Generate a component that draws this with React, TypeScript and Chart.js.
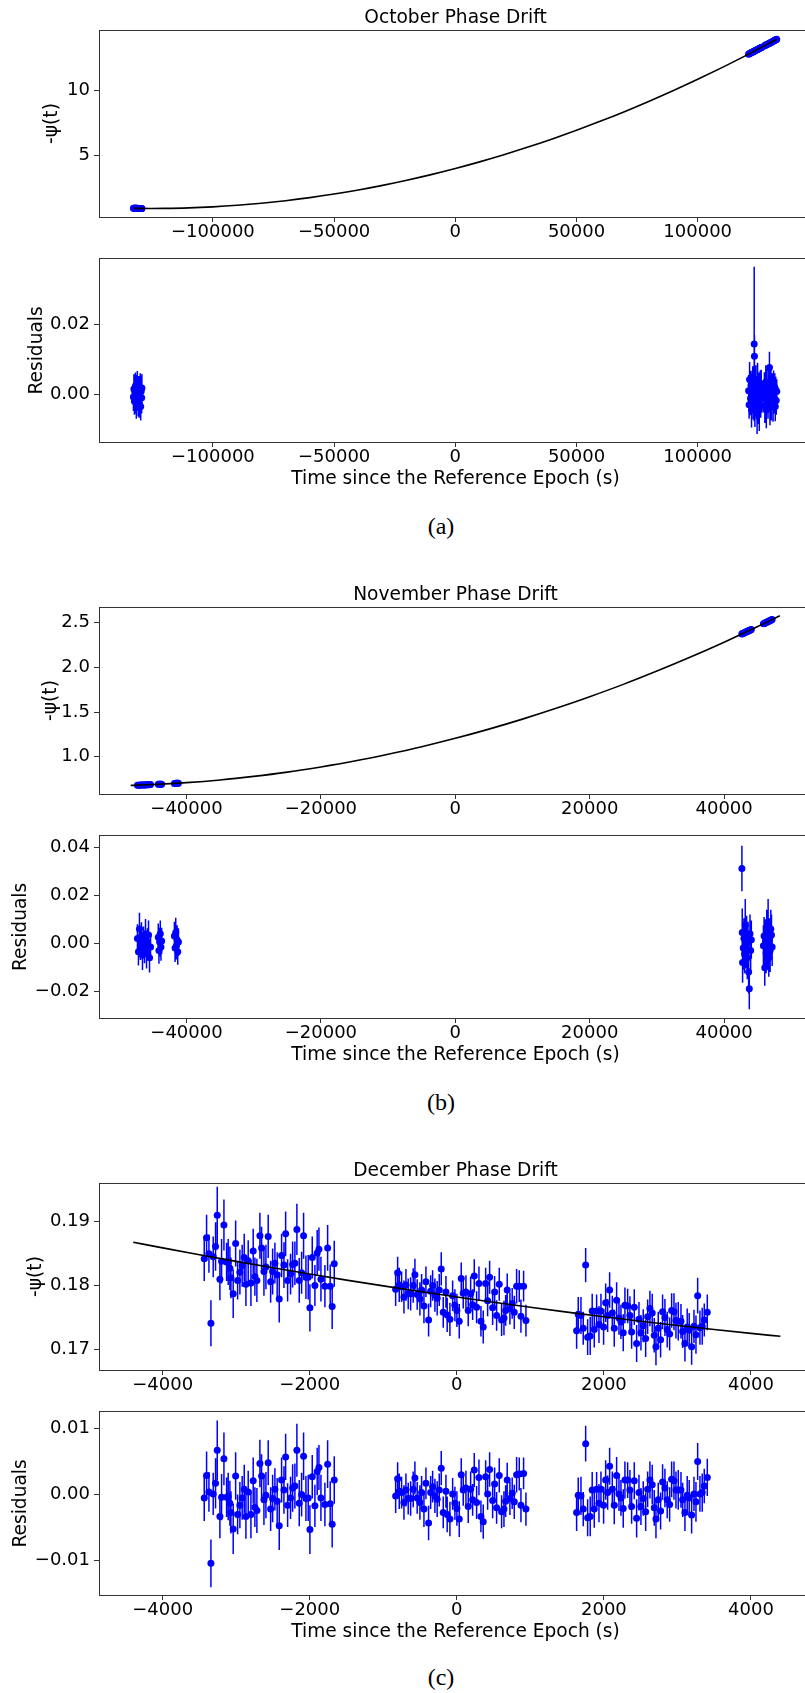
import React, { useEffect, useRef } from 'react';
import { Chart, registerables } from 'chart.js';

Chart.register(...registerables);

// ------------------------------------------------------------------ data
// October
const OCT_FIT_X = [-132800, -126000, -120000, -110000, -100000, -90000, -80000, -70000, -60000, -50000, -40000, -30000, -20000, -10000, 0, 10000, 20000, 30000, 40000, 50000, 60000, 70000, 80000, 90000, 100000, 110000, 120000, 132600];
const OCT_FIT_Y = [0.855, 0.844, 0.850, 0.890, 0.971, 1.091, 1.250, 1.449, 1.688, 1.966, 2.283, 2.641, 3.038, 3.474, 3.950, 4.466, 5.020, 5.615, 6.249, 6.924, 7.636, 8.389, 9.182, 10.013, 10.885, 11.796, 12.746, 14.001];

const OCT_X = [
  -132800, -132600, -132400, -132200, -132000, -131800, -131600, -131400, -131200, -131000, -130800, -130600, -130400, -130200, -130000, -129800, -129600, -129400, -129300,
  121000, 121200, 121400, 121800, 122000, 122200, 122500, 122700, 122900, 123100, 123300, 123400, 123600, 124000, 124300, 124500, 124700, 125000, 125200, 125400, 125800, 126000, 126200, 126500,
  127500, 127700, 127900, 128100, 128300, 128600, 129000, 129300, 129600, 129800, 130000, 130200, 130400, 130700, 131100, 131300, 131500, 131800, 132000, 132200, 132400, 132600,
];
const OCT_PHASE = [
  0.855, 0.854, 0.854, 0.853, 0.853, 0.852, 0.852, 0.851, 0.851, 0.850, 0.850, 0.849, 0.849, 0.849, 0.848, 0.848, 0.848, 0.847, 0.847,
  12.844, 12.864, 12.883, 12.922, 12.942, 12.961, 12.990, 13.010, 13.030, 13.050, 13.069, 13.079, 13.099, 13.138, 13.168, 13.188, 13.207, 13.237, 13.257, 13.276, 13.316, 13.336, 13.356, 13.386,
  13.485, 13.506, 13.526, 13.546, 13.566, 13.596, 13.637, 13.666, 13.696, 13.717, 13.737, 13.757, 13.777, 13.808, 13.849, 13.869, 13.889, 13.919, 13.939, 13.960, 13.980, 14.001,
];
const OCT_RESID = [
  -0.0008, 0.0015, -0.0020, 0.0005, 0.0022, -0.0012, -0.0030, 0.0010, 0.0028, -0.0005, -0.0018, 0.0012, -0.0025, 0.0002, 0.0020, -0.0035, 0.0008, -0.0010, 0.0018,
  0.0010, -0.0030, 0.0042, -0.0012, 0.0025, -0.0045, 0.0005, 0.0035, -0.0020, 0.0015, 0.0143, 0.0108, -0.0035, 0.0028, -0.0010, -0.0055, 0.0040, -0.0025, 0.0012, -0.0040, 0.0020, -0.0015, 0.0030, -0.0008,
  0.0018, -0.0032, 0.0008, 0.0035, -0.0045, 0.0012, -0.0020, 0.0030, 0.0076, -0.0038, 0.0005, 0.0038, -0.0025, 0.0015, -0.0030, 0.0028, -0.0010, 0.0020, -0.0035, 0.0012, -0.0018, 0.0008,
];
const OCT_ERR = [
  0.0040, 0.0042, 0.0038, 0.0045, 0.0040, 0.0043, 0.0040, 0.0045, 0.0038, 0.0042, 0.0045, 0.0040, 0.0042, 0.0046, 0.0040, 0.0040, 0.0043, 0.0045, 0.0040,
  0.0045, 0.0040, 0.0050, 0.0048, 0.0042, 0.0050, 0.0055, 0.0045, 0.0052, 0.0060, 0.0220, 0.0060, 0.0058, 0.0055, 0.0062, 0.0058, 0.0050, 0.0060, 0.0050, 0.0065, 0.0048, 0.0052, 0.0040, 0.0045,
  0.0045, 0.0050, 0.0055, 0.0048, 0.0052, 0.0060, 0.0050, 0.0045, 0.0045, 0.0050, 0.0058, 0.0042, 0.0050, 0.0045, 0.0048, 0.0040, 0.0045, 0.0040, 0.0042, 0.0038, 0.0040, 0.0035,
];

// November
const NOV_FIT_X = [-48300, -45000, -40000, -35000, -30000, -25000, -20000, -15000, -10000, -5000, 0, 5000, 10000, 15000, 20000, 25000, 30000, 35000, 40000, 45000, 48300];
const NOV_FIT_Y = [0.680, 0.689, 0.710, 0.740, 0.780, 0.828, 0.886, 0.952, 1.028, 1.112, 1.206, 1.309, 1.421, 1.542, 1.672, 1.810, 1.959, 2.116, 2.282, 2.457, 2.578];

const NOV_X = [
  -47300, -47150, -47000, -46850, -46700, -46550, -46400, -46250, -46100, -45950, -45800, -45650, -45500, -45350,
  -44200, -44100, -44000, -43900, -43800, -43700,
  -41800, -41700, -41600, -41500, -41400, -41300, -41200,
  42650, 42700, 42750, 42850, 42950, 43050, 43150, 43250, 43350, 43450, 43550, 43650, 43750, 43850, 43950, 44050,
  45850, 45950, 46050, 46150, 46250, 46350, 46450, 46550, 46650, 46750, 46850, 46950, 47050, 47150,
];
const NOV_PHASE = [
  0.681, 0.682, 0.682, 0.683, 0.683, 0.684, 0.684, 0.685, 0.685, 0.686, 0.686, 0.687, 0.687, 0.688,
  0.691, 0.692, 0.692, 0.692, 0.693, 0.693,
  0.701, 0.701, 0.702, 0.702, 0.703, 0.703, 0.703,
  2.374, 2.376, 2.378, 2.381, 2.385, 2.388, 2.392, 2.395, 2.399, 2.402, 2.406, 2.409, 2.413, 2.417, 2.420, 2.424,
  2.488, 2.492, 2.495, 2.499, 2.503, 2.506, 2.510, 2.514, 2.517, 2.521, 2.525, 2.528, 2.532, 2.536,
];
const NOV_RESID = [
  0.0020, -0.0035, 0.0060, -0.0010, 0.0030, -0.0050, 0.0010, -0.0025, 0.0040, -0.0040, 0.0005, 0.0035, -0.0060, -0.0015,
  0.0025, -0.0030, 0.0005, 0.0040, -0.0015, 0.0010,
  0.0030, -0.0020, 0.0045, -0.0010, 0.0015, -0.0035, 0.0005,
  0.0312, 0.0045, -0.0080, -0.0020, 0.0020, -0.0045, 0.0075, -0.0010, 0.0030, -0.0060, 0.0005, -0.0120, -0.0190, 0.0040, -0.0030, 0.0015,
  -0.0010, 0.0030, -0.0102, 0.0010, -0.0040, 0.0050, -0.0020, 0.0075, -0.0060, 0.0020, -0.0030, 0.0060, 0.0035, -0.0015,
];
const NOV_ERR = [
  0.0060, 0.0058, 0.0068, 0.0060, 0.0058, 0.0062, 0.0060, 0.0058, 0.0062, 0.0065, 0.0058, 0.0060, 0.0062, 0.0058,
  0.0058, 0.0055, 0.0060, 0.0055, 0.0058, 0.0055,
  0.0060, 0.0058, 0.0062, 0.0058, 0.0060, 0.0055, 0.0058,
  0.0095, 0.0100, 0.0085, 0.0090, 0.0085, 0.0080, 0.0110, 0.0095, 0.0085, 0.0090, 0.0085, 0.0090, 0.0085, 0.0080, 0.0085, 0.0080,
  0.0085, 0.0080, 0.0075, 0.0090, 0.0085, 0.0090, 0.0085, 0.0110, 0.0080, 0.0085, 0.0090, 0.0080, 0.0085, 0.0080,
];

// December
const DEC_FIT_X = [-4400, -4000, -3500, -3000, -2500, -2000, -1500, -1000, -500, 0, 500, 1000, 1500, 2000, 2500, 3000, 3500, 4000, 4400];
const DEC_FIT_Y = [0.18678, 0.18590, 0.18483, 0.18379, 0.18278, 0.18180, 0.18085, 0.17994, 0.17906, 0.17820, 0.17738, 0.17659, 0.17583, 0.17510, 0.17440, 0.17374, 0.17311, 0.17250, 0.17204];

const DEC_X = [
  -3435, -3403, -3371, -3344, -3313, -3281, -3258, -3222, -3199, -3167, -3131, -3109, -3086, -3072, -3041, -3008, -2981, -2950, -2919, -2891,
  -2868, -2837, -2800, -2769, -2746, -2719, -2678, -2655, -2623, -2596, -2565, -2532, -2505, -2474, -2443, -2415, -2383, -2351, -2328, -2301,
  -2261, -2233, -2202, -2175, -2143, -2111, -2084, -2052, -2021, -1998, -1966, -1930, -1899, -1875, -1848, -1794, -1757, -1722, -1695, -1667,
  -832, -805, -783, -751, -719, -692, -661, -628, -593, -570, -539, -502, -479, -447, -420, -384, -356, -329, -298, -267,
  -239, -212, -185, -148, -131, -94, -57, -26, 1, 33, 60, 87, 124, 155, 188, 215, 237, 269, 301, 328,
  359, 392, 419, 446, 487, 514, 541, 577, 609, 641, 664, 685, 722, 753, 781, 813, 849, 872, 908, 940,
  1629, 1651, 1688, 1719, 1752, 1779, 1814, 1841, 1869, 1901, 1933, 1960, 1996, 2024, 2051, 2078, 2114, 2141, 2173, 2205,
  2232, 2263, 2286, 2323, 2354, 2377, 2413, 2445, 2477, 2504, 2535, 2568, 2595, 2626, 2657, 2685, 2708, 2739, 2771, 2798,
  2830, 2861, 2894, 2921, 2953, 2980, 3011, 3048, 3071, 3102, 3133, 3160, 3193, 3225, 3252, 3275, 3306, 3337, 3365, 3406,
];
const DEC_PHASE = [
  0.1842, 0.1875, 0.1850, 0.1741, 0.1845, 0.1861, 0.1910, 0.1810, 0.1838, 0.1895, 0.1837, 0.1837, 0.1827, 0.1812, 0.1787, 0.1866, 0.1808, 0.1821, 0.1831, 0.1844,
  0.1802, 0.1839, 0.1804, 0.1854, 0.1814, 0.1808, 0.1878, 0.1859, 0.1822, 0.1829, 0.1877, 0.1806, 0.1822, 0.1835, 0.1817, 0.1779, 0.1847, 0.1832, 0.1881, 0.1808,
  0.1818, 0.1833, 0.1835, 0.1888, 0.1808, 0.1820, 0.1878, 0.1813, 0.1813, 0.1765, 0.1844, 0.1800, 0.1851, 0.1857, 0.1810, 0.1799, 0.1859, 0.1799, 0.1767, 0.1834,
  0.1794, 0.1820, 0.1801, 0.1798, 0.1782, 0.1801, 0.1787, 0.1787, 0.1800, 0.1817, 0.1786, 0.1779, 0.1793, 0.1768, 0.1806, 0.1746, 0.1791, 0.1800, 0.1785, 0.1780,
  0.1793, 0.1826, 0.1758, 0.1790, 0.1754, 0.1747, 0.1784, 0.1769, 0.1761, 0.1744, 0.1811, 0.1788, 0.1790, 0.1761, 0.1787, 0.1770, 0.1815, 0.1766, 0.1803, 0.1744,
  0.1735, 0.1803, 0.1776, 0.1813, 0.1765, 0.1790, 0.1753, 0.1802, 0.1746, 0.1749, 0.1761, 0.1793, 0.1764, 0.1772, 0.1758, 0.1799, 0.1799, 0.1752, 0.1799, 0.1745,
  0.1729, 0.1755, 0.1753, 0.1733, 0.1832, 0.1719, 0.1721, 0.1760, 0.1731, 0.1760, 0.1739, 0.1760, 0.1735, 0.1773, 0.1753, 0.1793, 0.1757, 0.1733, 0.1777, 0.1749,
  0.1743, 0.1726, 0.1769, 0.1768, 0.1753, 0.1727, 0.1766, 0.1709, 0.1747, 0.1726, 0.1737, 0.1717, 0.1751, 0.1764, 0.1757, 0.1722, 0.1704, 0.1733, 0.1715, 0.1759,
  0.1750, 0.1731, 0.1724, 0.1761, 0.1759, 0.1745, 0.1744, 0.1744, 0.1728, 0.1709, 0.1735, 0.1730, 0.1704, 0.1736, 0.1723, 0.1784, 0.1734, 0.1736, 0.1746, 0.1758,
];
const DEC_RESID = [
  -0.0005, 0.0029, 0.0004, -0.0104, 0.0001, 0.0017, 0.0067, -0.0033, -0.0004, 0.0054, -0.0004, -0.0003, -0.0013, -0.0027, -0.0052, 0.0028, -0.0030, -0.0016, -0.0005, 0.0008,
  -0.0033, 0.0004, -0.0030, 0.0021, -0.0019, -0.0024, 0.0047, 0.0028, -0.0008, -0.0001, 0.0048, -0.0022, -0.0006, 0.0008, -0.0010, -0.0047, 0.0022, 0.0007, 0.0057, -0.0016,
  -0.0005, 0.0010, 0.0013, 0.0067, -0.0013, 0.0000, 0.0058, -0.0006, -0.0005, -0.0053, 0.0027, -0.0017, 0.0035, 0.0041, -0.0005, -0.0015, 0.0046, -0.0014, -0.0045, 0.0022,
  -0.0002, 0.0024, 0.0005, 0.0003, -0.0012, 0.0007, -0.0006, -0.0006, 0.0008, 0.0025, -0.0005, -0.0012, 0.0003, -0.0022, 0.0017, -0.0043, 0.0003, 0.0012, -0.0002, -0.0007,
  0.0007, 0.0040, -0.0027, 0.0005, -0.0030, -0.0037, 0.0001, -0.0013, -0.0021, -0.0037, 0.0030, 0.0007, 0.0010, -0.0018, 0.0008, -0.0008, 0.0037, -0.0012, 0.0026, -0.0033,
  -0.0041, 0.0027, 0.0001, 0.0038, -0.0009, 0.0016, -0.0020, 0.0029, -0.0026, -0.0022, -0.0010, 0.0022, -0.0006, 0.0002, -0.0011, 0.0030, 0.0031, -0.0016, 0.0032, -0.0022,
  -0.0027, -0.0001, -0.0002, -0.0022, 0.0077, -0.0035, -0.0033, 0.0007, -0.0022, 0.0008, -0.0013, 0.0008, -0.0016, 0.0022, 0.0003, 0.0043, 0.0008, -0.0016, 0.0029, 0.0001,
  -0.0005, -0.0021, 0.0022, 0.0022, 0.0007, -0.0018, 0.0021, -0.0036, 0.0003, -0.0018, -0.0006, -0.0026, 0.0008, 0.0022, 0.0015, -0.0020, -0.0037, -0.0008, -0.0025, 0.0019,
  0.0010, -0.0008, -0.0015, 0.0023, 0.0021, 0.0007, 0.0007, 0.0007, -0.0008, -0.0027, -0.0001, -0.0005, -0.0031, 0.0001, -0.0011, 0.0050, 0.0001, 0.0003, 0.0013, 0.0026,
];
const DEC_ERR = [
  0.0035, 0.0036, 0.0030, 0.0036, 0.0032, 0.0038, 0.0045, 0.0033, 0.0035, 0.0040, 0.0030, 0.0036, 0.0034, 0.0032, 0.0038, 0.0036, 0.0030, 0.0035, 0.0033, 0.0037,
  0.0034, 0.0032, 0.0036, 0.0035, 0.0030, 0.0034, 0.0036, 0.0033, 0.0038, 0.0035, 0.0034, 0.0033, 0.0036, 0.0032, 0.0035, 0.0037, 0.0034, 0.0036, 0.0035, 0.0033,
  0.0032, 0.0036, 0.0034, 0.0040, 0.0035, 0.0033, 0.0036, 0.0034, 0.0035, 0.0037, 0.0033, 0.0032, 0.0036, 0.0034, 0.0035, 0.0033, 0.0036, 0.0034, 0.0035, 0.0036,
  0.0026, 0.0025, 0.0027, 0.0024, 0.0026, 0.0025, 0.0024, 0.0026, 0.0027, 0.0025, 0.0024, 0.0026, 0.0025, 0.0027, 0.0024, 0.0026, 0.0025, 0.0024, 0.0026, 0.0027,
  0.0025, 0.0026, 0.0024, 0.0025, 0.0027, 0.0026, 0.0024, 0.0025, 0.0026, 0.0027, 0.0025, 0.0024, 0.0026, 0.0025, 0.0027, 0.0024, 0.0026, 0.0025, 0.0027, 0.0024,
  0.0026, 0.0025, 0.0024, 0.0026, 0.0027, 0.0025, 0.0024, 0.0026, 0.0025, 0.0027, 0.0024, 0.0026, 0.0025, 0.0024, 0.0026, 0.0027, 0.0025, 0.0026, 0.0024, 0.0025,
  0.0028, 0.0027, 0.0029, 0.0026, 0.0027, 0.0028, 0.0030, 0.0027, 0.0028, 0.0026, 0.0029, 0.0027, 0.0028, 0.0030, 0.0026, 0.0028, 0.0027, 0.0029, 0.0028, 0.0026,
  0.0027, 0.0029, 0.0028, 0.0027, 0.0030, 0.0026, 0.0028, 0.0029, 0.0027, 0.0028, 0.0026, 0.0029, 0.0027, 0.0028, 0.0030, 0.0027, 0.0029, 0.0026, 0.0028, 0.0027,
  0.0029, 0.0028, 0.0026, 0.0027, 0.0029, 0.0028, 0.0030, 0.0027, 0.0026, 0.0028, 0.0029, 0.0027, 0.0028, 0.0026, 0.0030, 0.0028, 0.0027, 0.0029, 0.0026, 0.0028,
];

// ticks
const OCT_X_TICKS = [-100000, -50000, 0, 50000, 100000];
const OCT_X_LABELS = ['\u2212100000', '\u221250000', '0', '50000', '100000'];
const OCT_PHASE_TICKS = [5, 10];
const OCT_PHASE_LABELS = ['5', '10'];
const OCT_RESID_TICKS = [0, 0.02];
const OCT_RESID_LABELS = ['0.00', '0.02'];

const NOV_X_TICKS = [-40000, -20000, 0, 20000, 40000];
const NOV_X_LABELS = ['\u221240000', '\u221220000', '0', '20000', '40000'];
const NOV_PHASE_TICKS = [1.0, 1.5, 2.0, 2.5];
const NOV_PHASE_LABELS = ['1.0', '1.5', '2.0', '2.5'];
const NOV_RESID_TICKS = [-0.02, 0, 0.02, 0.04];
const NOV_RESID_LABELS = ['\u22120.02', '0.00', '0.02', '0.04'];

const DEC_X_TICKS = [-4000, -2000, 0, 2000, 4000];
const DEC_X_LABELS = ['\u22124000', '\u22122000', '0', '2000', '4000'];
const DEC_PHASE_TICKS = [0.17, 0.18, 0.19];
const DEC_PHASE_LABELS = ['0.17', '0.18', '0.19'];
const DEC_RESID_TICKS = [-0.01, 0, 0.01];
const DEC_RESID_LABELS = ['\u22120.01', '0.00', '0.01'];

// ------------------------------------------------------------------ chart
const BLUE = '#0000ff';
const AXIS_COLOR = '#333333';
const FONT = 'DejaVu Sans';
const CANVAS_W = 830;

type PanelProps = {
  top: number;
  height: number;
  title?: string;
  yLabel: string;
  yTitlePad: number;
  xLabel?: string;
  xMin: number; xMax: number; xTicks: number[]; xLabels: string[];
  yMin: number; yMax: number; yTicks: number[]; yLabels: string[];
  xs: number[]; ys: number[]; es: number[];
  fitX?: number[]; fitY?: number[];
};

function Panel(p: PanelProps) {
  const ref = useRef<HTMLCanvasElement>(null);
  useEffect(() => {
    const n = Math.min(p.xs.length, p.ys.length, p.es.length);
    const pts: any[] = [];
    const bars: any[] = [];
    for (let i = 0; i < n; i++) {
      pts.push({ x: p.xs[i], y: p.ys[i] });
      bars.push({ x: p.xs[i], y: p.ys[i] - p.es[i] });
      bars.push({ x: p.xs[i], y: p.ys[i] + p.es[i] });
      bars.push({ x: p.xs[i], y: null });
    }
    const datasets: any[] = [];
    if (p.fitX && p.fitY) {
      const fy = p.fitY;
      datasets.push({
        type: 'line',
        data: p.fitX.map((x, i) => ({ x, y: fy[i] })),
        borderColor: '#000000', borderWidth: 1.6, pointRadius: 0,
        cubicInterpolationMode: 'monotone', fill: false, order: 0,
        xAxisID: 'x', yAxisID: 'y',
      });
    }
    datasets.push({
      type: 'scatter', data: pts, pointRadius: 3.5, pointHoverRadius: 3.5,
      backgroundColor: BLUE, pointBackgroundColor: BLUE, borderWidth: 0, pointBorderWidth: 0,
      order: 1, xAxisID: 'x', yAxisID: 'y',
    });
    datasets.push({
      type: 'line', data: bars, borderColor: BLUE, borderWidth: 1.5, pointRadius: 0,
      spanGaps: false, fill: false, tension: 0, order: 2, xAxisID: 'x', yAxisID: 'y',
    });
    const font = { family: FONT, size: 18 };
    const titleFont = { family: FONT, size: 18.6 };
    const chart = new Chart(ref.current as HTMLCanvasElement, {
      type: 'scatter',
      data: { datasets },
      options: {
        animation: false,
        responsive: false,
        devicePixelRatio: 1,
        events: [],
        layout: { padding: { left: 0, right: 18, top: 0, bottom: 0 } },
        plugins: { legend: { display: false }, tooltip: { enabled: false }, title: { display: false } },
        scales: {
          x: {
            type: 'linear', position: 'bottom', min: p.xMin, max: p.xMax,
            afterBuildTicks: (s: any) => { s.ticks = p.xTicks.map((v) => ({ value: v })); },
            afterFit: (s: any) => { s.height = p.xLabel ? 50 : 27; },
            ticks: {
              callback: (_v: any, i: number) => p.xLabels[i],
              font, color: '#000000', padding: 0, maxRotation: 0, minRotation: 0, autoSkip: false,
            },
            grid: { drawOnChartArea: false, drawTicks: true, tickLength: 5, tickColor: AXIS_COLOR, tickWidth: 1 },
            border: { display: true, color: AXIS_COLOR, width: 1 },
            title: {
              display: !!p.xLabel, text: p.xLabel || '', font: titleFont, color: '#000000',
              padding: { top: 0, bottom: 2 },
            },
          },
          xTop: {
            type: 'linear', position: 'top', min: p.xMin, max: p.xMax,
            afterFit: (s: any) => { s.height = p.title ? 30 : 11; },
            ticks: { display: false },
            grid: { display: false },
            border: { display: true, color: AXIS_COLOR, width: 1 },
            title: {
              display: !!p.title, text: p.title || '', font: titleFont, color: '#000000',
              padding: { top: 7, bottom: 0 },
            },
          },
          y: {
            type: 'linear', position: 'left', min: p.yMin, max: p.yMax,
            afterBuildTicks: (s: any) => { s.ticks = p.yTicks.map((v) => ({ value: v })); },
            afterFit: (s: any) => { s.width = 99; },
            ticks: {
              callback: (_v: any, i: number) => p.yLabels[i],
              font, color: '#000000', padding: 4, autoSkip: false,
            },
            grid: { drawOnChartArea: false, drawTicks: true, tickLength: 5, tickColor: AXIS_COLOR, tickWidth: 1 },
            border: { display: true, color: AXIS_COLOR, width: 1 },
            title: {
              display: true, text: p.yLabel, font: titleFont, color: '#000000',
              padding: { top: p.yTitlePad, bottom: 0 },
            },
          },
        },
      } as any,
    });
    return () => chart.destroy();
  }, []);
  return (
    <canvas
      ref={ref}
      width={CANVAS_W}
      height={p.height}
      style={{ position: 'absolute', left: 0, top: p.top, width: CANVAS_W, height: p.height, display: 'block' }}
    />
  );
}

function Caption({ text, centerY }: { text: string; centerY: number }) {
  return (
    <div
      style={{
        position: 'absolute', left: 0, width: 882, top: centerY - 15, height: 30, lineHeight: '30px',
        textAlign: 'center', fontFamily: '"Liberation Serif", "DejaVu Serif", serif', fontSize: 24, color: '#000',
      }}
    >
      {text}
    </div>
  );
}

const X_TITLE = 'Time since the Reference Epoch (s)';

export default function App() {
  return (
    <div style={{ position: 'absolute', left: 0, top: 0, width: 805, height: 1693, overflow: 'hidden', background: '#ffffff' }}>
      <Panel
        top={0} height={244} title="October Phase Drift" yLabel="-ψ(t)" yTitlePad={41}
        xMin={-147000} xMax={147150} xTicks={OCT_X_TICKS} xLabels={OCT_X_LABELS}
        yMin={0.18} yMax={14.72} yTicks={OCT_PHASE_TICKS} yLabels={OCT_PHASE_LABELS}
        xs={OCT_X} ys={OCT_PHASE} es={OCT_ERR.map(() => 0)} fitX={OCT_FIT_X} fitY={OCT_FIT_Y}
      />
      <Panel
        top={244} height={248} yLabel="Residuals" yTitlePad={26} xLabel={X_TITLE}
        xMin={-147000} xMax={147150} xTicks={OCT_X_TICKS} xLabels={OCT_X_LABELS}
        yMin={-0.0136} yMax={0.0386} yTicks={OCT_RESID_TICKS} yLabels={OCT_RESID_LABELS}
        xs={OCT_X} ys={OCT_RESID} es={OCT_ERR}
      />
      <Caption text="(a)" centerY={526} />

      <Panel
        top={577} height={244} title="November Phase Drift" yLabel="-ψ(t)" yTitlePad={40}
        xMin={-53020} xMax={53080} xTicks={NOV_X_TICKS} xLabels={NOV_X_LABELS}
        yMin={0.583} yMax={2.676} yTicks={NOV_PHASE_TICKS} yLabels={NOV_PHASE_LABELS}
        xs={NOV_X} ys={NOV_PHASE} es={NOV_ERR.map(() => 0)} fitX={NOV_FIT_X} fitY={NOV_FIT_Y}
      />
      <Panel
        top={821} height={247} yLabel="Residuals" yTitlePad={10} xLabel={X_TITLE}
        xMin={-53020} xMax={53080} xTicks={NOV_X_TICKS} xLabels={NOV_X_LABELS}
        yMin={-0.0312} yMax={0.0449} yTicks={NOV_RESID_TICKS} yLabels={NOV_RESID_LABELS}
        xs={NOV_X} ys={NOV_RESID} es={NOV_ERR}
      />
      <Caption text="(b)" centerY={1102} />

      <Panel
        top={1153} height={244} title="December Phase Drift" yLabel="-ψ(t)" yTitlePad={25}
        xMin={-4866} xMax={4830} xTicks={DEC_X_TICKS} xLabels={DEC_X_LABELS}
        yMin={0.16676} yMax={0.19607} yTicks={DEC_PHASE_TICKS} yLabels={DEC_PHASE_LABELS}
        xs={DEC_X} ys={DEC_PHASE} es={DEC_ERR} fitX={DEC_FIT_X} fitY={DEC_FIT_Y}
      />
      <Panel
        top={1397} height={248} yLabel="Residuals" yTitlePad={10} xLabel={X_TITLE}
        xMin={-4866} xMax={4830} xTicks={DEC_X_TICKS} xLabels={DEC_X_LABELS}
        yMin={-0.01519} yMax={0.01252} yTicks={DEC_RESID_TICKS} yLabels={DEC_RESID_LABELS}
        xs={DEC_X} ys={DEC_RESID} es={DEC_ERR}
      />
      <Caption text="(c)" centerY={1677} />
    </div>
  );
}
